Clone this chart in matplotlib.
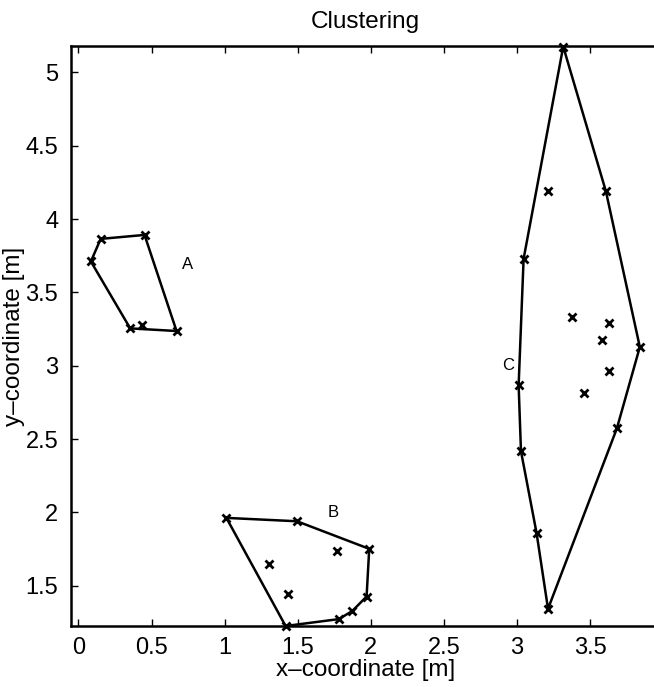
import matplotlib
matplotlib.use("Agg")
import matplotlib.pyplot as plt

plt.rcParams['font.family'] = ['Liberation Sans', 'DejaVu Sans']

# Cluster A
a_hull_x = [0.085, 0.152, 0.452, 0.671, 0.354]
a_hull_y = [3.711, 3.865, 3.892, 3.237, 3.255]
a_in_x = [0.438]
a_in_y = [3.278]

# Cluster B
b_hull_x = [1.012, 1.495, 1.989, 1.971, 1.873, 1.781, 1.417]
b_hull_y = [1.963, 1.940, 1.752, 1.427, 1.328, 1.273, 1.226]
b_in_x = [1.303, 1.436, 1.766]
b_in_y = [1.650, 1.446, 1.736]

# Cluster C
c_hull_x = [3.316, 3.608, 3.840, 3.683, 3.212, 3.134, 3.027, 3.011, 3.045]
c_hull_y = [5.176, 4.189, 3.128, 2.573, 1.343, 1.858, 2.418, 2.867, 3.729]
c_in_x = [3.209, 3.373, 3.630, 3.578, 3.630, 3.455]
c_in_y = [4.189, 3.332, 3.294, 3.178, 2.967, 2.813]

labels = ["A", "B", "C"]
label_x = [0.709, 1.706, 2.900]
label_y = [3.69, 2.00, 3.00]

xticks = [0, 0.5, 1, 1.5, 2, 2.5, 3, 3.5]
yticks = [1.5, 2, 2.5, 3, 3.5, 4, 4.5, 5]

W, H = 654, 687
fig = plt.figure(figsize=(W/100, H/100), dpi=100)
left, right, top, bottom = 70.7, 660, 46, 626
ax = fig.add_axes([left/W, 1 - bottom/H, (right-left)/W, (bottom-top)/H])

clusters = [(a_hull_x, a_hull_y, a_in_x, a_in_y),
            (b_hull_x, b_hull_y, b_in_x, b_in_y),
            (c_hull_x, c_hull_y, c_in_x, c_in_y)]
for hx, hy, ix, iy in clusters:
    ax.plot(hx + hx[:1], hy + hy[:1], color='black', lw=1.8, clip_on=False)
    ax.plot(hx + ix, hy + iy, linestyle='none', marker='x', color='black',
            ms=6, mew=2, clip_on=False)

for t, x, y in zip(labels, label_x, label_y):
    ax.text(x, y, t, fontsize=12, ha='left', va='center')

ax.set_xlim(-0.053, 3.978)
ax.set_ylim(1.226, 5.18)
ax.set_xticks(xticks)
ax.set_xticklabels([f"{v:g}" for v in xticks])
ax.set_yticks(yticks)
ax.set_yticklabels([f"{v:g}" for v in yticks])
ax.tick_params(direction='in', length=5, width=1, labelsize=17, top=True,
               right=False)
ax.tick_params(axis='y', pad=9)
ax.tick_params(axis='x', pad=8)
for s in ['left', 'bottom', 'top']:
    ax.spines[s].set_linewidth(1.8)
ax.spines['right'].set_visible(False)

ax.set_xlabel("x–coordinate [m]", fontsize=17.5, labelpad=0)
ax.set_ylabel("y–coordinate [m]", fontsize=17.5, labelpad=0)
ax.set_title("Clustering", fontsize=17.5, pad=13)

fig.savefig("out.png", dpi=100)
